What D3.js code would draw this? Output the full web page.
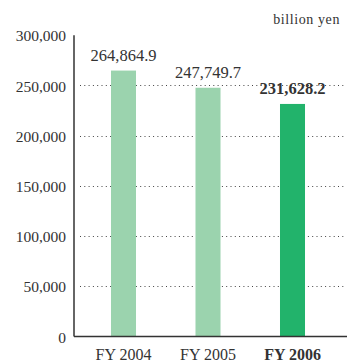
<!DOCTYPE html>
<html><head><meta charset="utf-8">
<script src="https://cdn.jsdelivr.net/npm/d3@7"></script>
<style>
body{margin:0;background:#fff;}
svg text{font-family:"Liberation Serif","Times New Roman",serif !important;fill:#333;}
</style></head>
<body><svg id="c" width="353" height="363"></svg>
<script>
const categories = ["FY 2004", "FY 2005", "FY 2006"];
const values = [264864.9, 247749.7, 231628.2];
const valueLabels = ["264,864.9", "247,749.7", "231,628.2"];
const yTicks = [0, 50000, 100000, 150000, 200000, 250000, 300000];
const gridTicks = [50000, 100000, 150000, 200000, 250000];
const unitLabel = "billion yen";
const highlight = [false, false, true];

const SERIF = '"Liberation Serif", "Times New Roman", serif';
const svg = d3.select("#c");
const y = d3.scaleLinear().domain([0, 300000]).range([336.5, 35.3]);
const x = d3.scaleBand().domain(categories).range([81.25, 334.75]).paddingInner(0.704).paddingOuter(0.352);
const axisX = 74;

// grid
svg.append("g").selectAll("line").data(gridTicks).join("line")
  .attr("x1", axisX + 6).attr("x2", 345)
  .attr("y1", d => Math.round(y(d)) + 0.5).attr("y2", d => Math.round(y(d)) + 0.5)
  .attr("stroke", "#444").attr("stroke-width", 1).attr("stroke-dasharray", "1,3.3");

// bars
svg.append("g").selectAll("rect").data(values).join("rect")
  .attr("x", (d, i) => x(categories[i])).attr("width", x.bandwidth())
  .attr("y", d => y(d)).attr("height", d => y(0) - y(d))
  .attr("fill", (d, i) => highlight[i] ? "#22b36b" : "#9bd3ae");

// y axis
const yAxis = d3.axisLeft(y).tickValues(yTicks).tickSize(0).tickPadding(8)
  .tickFormat(d3.format(","));
const ga = svg.append("g").attr("transform", `translate(${axisX},0)`).call(yAxis);
ga.attr("font-family", null).attr("font-size", null);
ga.select(".domain").attr("stroke", "#333").attr("stroke-width", 1.5).attr("d", `M0,${y(300000)}V${y(0)}`);
ga.selectAll("text").style("font-family", SERIF).style("font-size", "15.5px").attr("fill", "#333").attr("dy", "0.36em");

// baseline
svg.append("line").attr("x1", axisX).attr("x2", 347).attr("y1", y(0)).attr("y2", y(0))
  .attr("stroke", "#333").attr("stroke-width", 1.5);

// x labels
const xAxis = d3.axisBottom(x).tickSize(0).tickPadding(12);
const gx = svg.append("g").attr("transform", `translate(0,${y(0)})`).call(xAxis);
gx.attr("font-family", null).attr("font-size", null);
gx.select(".domain").remove();
gx.selectAll("text").style("font-family", SERIF).style("font-size", "16px").attr("fill", "#333")
  .style("font-weight", (d, i) => highlight[i] ? "bold" : "normal");

// value labels
svg.append("g").selectAll("text").data(values).join("text")
  .attr("x", (d, i) => x(categories[i]) + x.bandwidth() / 2)
  .attr("y", d => y(d) - 10)
  .attr("text-anchor", "middle").style("font-family", SERIF).style("font-size", "16.5px")
  .style("font-weight", (d, i) => highlight[i] ? "bold" : "normal")
  .text((d, i) => valueLabels[i]);

// unit
svg.append("text").attr("x", 340).attr("y", 24).attr("text-anchor", "end")
  .style("font-family", SERIF).style("font-size", "14px").style("letter-spacing", "0.6px").text(unitLabel);
</script></body></html>
